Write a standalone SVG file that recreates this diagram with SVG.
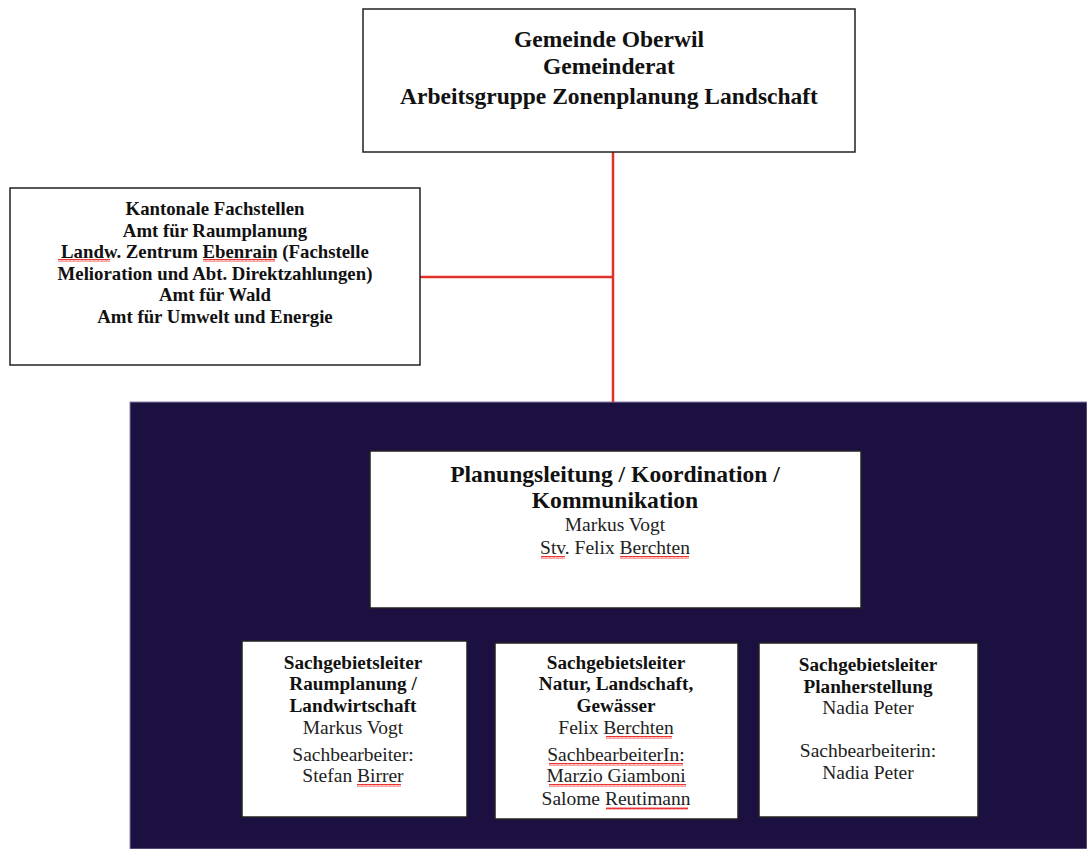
<svg xmlns="http://www.w3.org/2000/svg" width="1087" height="849" viewBox="0 0 1087 849">
<style>
.box{fill:#fff;stroke:#222;stroke-width:1.5}
.b{font-family:"Liberation Serif","Times New Roman",serif;font-weight:bold;fill:#111;text-anchor:middle}
.r{font-family:"Liberation Serif","Times New Roman",serif;fill:#222;text-anchor:middle}
.conn{stroke:#e2302a;stroke-width:2.5;fill:none}
.sq{stroke:#e33;stroke-width:1;fill:none}
</style>
<defs>
<pattern id="wave" width="4" height="3" patternUnits="userSpaceOnUse"><path d="M0 2.5 L1 0.5 L2 2.5 L3 0.5 L4 2.5" class="sq"/></pattern>
</defs>
<rect x="0" y="0" width="1087" height="849" fill="#fff"/>
<rect id="panel" x="130" y="402" width="957" height="447" fill="#1c1040" stroke="#8a80a8" stroke-width="1"/>
<g id="connectors">
<line class="conn" x1="613" y1="152" x2="613" y2="402"/>
<line class="conn" x1="420" y1="277" x2="613" y2="277"/>
</g>
<g id="gemeinde">
<rect class="box" x="363" y="9" width="492" height="143"/>
<text class="b" font-size="23.5"><tspan x="609" y="47">Gemeinde Oberwil</tspan><tspan x="609" y="74">Gemeinderat</tspan><tspan x="609" y="104">Arbeitsgruppe Zonenplanung Landschaft</tspan></text>
</g>
<g id="kantonal">
<rect class="box" x="10" y="188" width="410" height="177"/>
<text class="b" font-size="18.8"><tspan x="215" y="215">Kantonale Fachstellen</tspan><tspan x="215" y="237">Amt für Raumplanung</tspan><tspan x="215" y="258">Landw. Zentrum Ebenrain (Fachstelle</tspan><tspan x="215" y="280">Melioration und Abt. Direktzahlungen)</tspan><tspan x="215" y="301">Amt für Wald</tspan><tspan x="215" y="323">Amt für Umwelt und Energie</tspan></text>
<rect x="58" y="259" width="52" height="3" fill="url(#wave)"/>
<rect x="203" y="259" width="72" height="3" fill="url(#wave)"/>
</g>
<g id="leitung">
<rect class="box" x="370" y="451" width="491" height="157"/>
<text class="b" font-size="23.6"><tspan x="615" y="482">Planungsleitung / Koordination /</tspan><tspan x="615" y="508">Kommunikation</tspan></text>
<text class="r" font-size="19.5"><tspan x="615" y="531">Markus Vogt</tspan><tspan x="615" y="554">Stv. Felix Berchten</tspan></text>
<rect x="541" y="556" width="24" height="3" fill="url(#wave)"/>
<rect x="620" y="556" width="69" height="3" fill="url(#wave)"/>
</g>
<g id="raumplanung">
<rect class="box" x="242" y="641" width="225" height="176"/>
<text class="b" font-size="19.2"><tspan x="353" y="669">Sachgebietsleiter</tspan><tspan x="353" y="690">Raumplanung /</tspan><tspan x="353" y="712">Landwirtschaft</tspan></text>
<text class="r" font-size="19.5"><tspan x="353" y="734">Markus Vogt</tspan><tspan x="353" y="761">Sachbearbeiter:</tspan><tspan x="353" y="782">Stefan Birrer</tspan></text>
<rect x="357" y="784" width="44" height="3" fill="url(#wave)"/>
</g>
<g id="natur">
<rect class="box" x="495" y="643" width="243" height="176"/>
<text class="b" font-size="19.2"><tspan x="616" y="669">Sachgebietsleiter</tspan><tspan x="616" y="690">Natur, Landschaft,</tspan><tspan x="616" y="712">Gewässer</tspan></text>
<text class="r" font-size="19.5"><tspan x="616" y="734">Felix Berchten</tspan><tspan x="616" y="761">SachbearbeiterIn:</tspan><tspan x="616" y="782">Marzio Giamboni</tspan><tspan x="616" y="805">Salome Reutimann</tspan></text>
<rect x="606" y="736" width="66" height="3" fill="url(#wave)"/>
<rect x="549" y="763" width="134" height="3" fill="url(#wave)"/>
<rect x="549" y="784" width="137" height="3" fill="url(#wave)"/>
<rect x="606" y="807" width="82" height="3" fill="url(#wave)"/>
</g>
<g id="planherstellung">
<rect class="box" x="759" y="643" width="219" height="174"/>
<text class="b" font-size="19.2"><tspan x="868" y="671">Sachgebietsleiter</tspan><tspan x="868" y="693">Planherstellung</tspan></text>
<text class="r" font-size="19.5"><tspan x="868" y="714">Nadia Peter</tspan><tspan x="868" y="757">Sachbearbeiterin:</tspan><tspan x="868" y="779">Nadia Peter</tspan></text>
</g>
</svg>
